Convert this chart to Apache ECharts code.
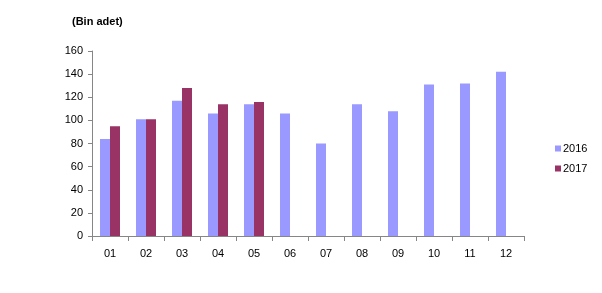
<!DOCTYPE html>
<html><head><meta charset="utf-8">
<script src="https://cdn.jsdelivr.net/npm/echarts@6/dist/echarts.min.js"></script>
<style>html,body{margin:0;padding:0;background:#fff}#c{width:602px;height:293px}</style>
</head><body><div id="c"></div>
<script>
const categories = ['01','02','03','04','05','06','07','08','09','10','11','12'];
const s2016 = [84, 101, 117, 106, 114, 106, 80, 114, 108, 131, 132, 142];
const s2017 = [95, 101, 128, 114, 116, null, null, null, null, null, null, null];
const yTicks = [0, 20, 40, 60, 80, 100, 120, 140, 160];

const font = 'Liberation Sans, Arial, sans-serif';
const chart = echarts.init(document.getElementById('c'), null, {renderer: 'canvas'});
chart.setOption({
  animation: false,
  backgroundColor: '#fff',
  title: {text: '(Bin adet)', left: 67, top: 11, textStyle: {fontFamily: font, fontSize: 11, fontWeight: 'bold', color: '#000'}},
  legend: {
    orient: 'vertical', left: 550, top: 138, itemWidth: 6, itemHeight: 6, itemGap: 9,
    textStyle: {fontFamily: font, fontSize: 11, color: '#000', padding: [0,0,0,-3]},
    data: ['2016', '2017'], icon: 'rect'
  },
  grid: {left: 92, right: 78, top: 51, bottom: 57, containLabel: false},
  xAxis: {
    type: 'category', data: categories,
    axisLine: {lineStyle: {color: '#868686'}},
    axisTick: {show: true, length: 5, lineStyle: {color: '#868686'}},
    axisLabel: {fontFamily: font, fontSize: 11, color: '#000', margin: 12}
  },
  yAxis: {
    type: 'value', min: 0, max: 160, interval: 20,
    axisLine: {show: true, lineStyle: {color: '#868686'}},
    axisTick: {show: true, length: 4, lineStyle: {color: '#868686'}},
    splitLine: {show: false},
    axisLabel: {fontFamily: font, fontSize: 11, color: '#000', margin: 9,
      formatter: v => yTicks.includes(v) ? String(v) : ''}
  },
  series: [
    {name: '2016', type: 'bar', data: s2016, barWidth: 10, barGap: '0%', itemStyle: {color: '#9999FF'}},
    {name: '2017', type: 'bar', data: s2017, barWidth: 10, itemStyle: {color: '#993366'}}
  ]
});
</script></body></html>
